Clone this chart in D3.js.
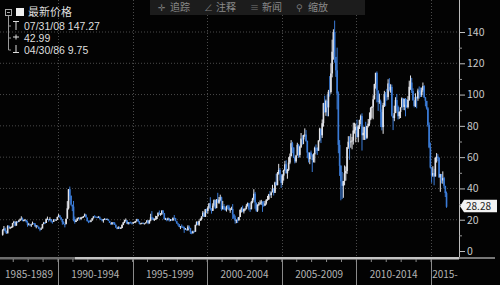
<!DOCTYPE html>
<html><head><meta charset="utf-8">
<script src="https://cdn.jsdelivr.net/npm/d3@7"></script>
<style>html,body{margin:0;padding:0;background:#000;}svg{display:block;}</style>
</head><body>
<svg id="c" width="500" height="285"></svg>
<script>
// Monthly WTI crude, Apr 1986 .. Jan 2016
const startYear = 1986, startMonth = 3; // April (0-based)
const closes = [
13.4,14.3,12.8,11.2,15.9,14.8,15.0,15.2,17.9,
18.7,16.2,18.8,18.7,19.4,20.3,20.6,19.2,19.6,19.9,18.4,16.7,
17.0,16.5,16.9,17.9,17.6,15.7,16.3,15.5,14.3,13.7,14.3,17.2,
18.0,17.9,20.3,20.4,19.8,20.3,18.9,18.6,20.1,19.8,20.0,21.8,
22.7,21.5,20.3,18.4,17.2,17.1,20.6,27.3,39.5,35.2,29.6,28.4,
20.4,18.6,19.4,20.8,21.3,20.3,21.4,21.7,22.2,23.4,21.5,19.1,
18.9,18.7,19.5,20.9,22.1,21.9,21.6,21.3,21.9,20.6,20.2,19.5,
20.3,20.4,20.3,20.4,19.3,18.0,17.0,18.4,18.1,16.7,15.0,14.2,
15.2,14.5,14.7,16.7,18.3,19.4,19.6,17.5,18.4,18.2,18.1,17.8,
18.4,18.5,19.2,20.4,18.9,17.4,17.6,17.8,17.6,17.6,18.2,19.6,
17.7,19.5,21.5,21.2,19.8,20.4,20.4,22.3,24.4,23.4,23.8,25.9,
24.2,20.3,20.4,19.7,20.9,19.8,20.1,19.6,21.2,21.0,19.1,17.6,
17.2,15.4,15.6,15.4,15.2,13.8,14.2,13.4,15.6,14.8,12.2,11.3,
12.6,12.3,16.7,18.7,16.8,19.3,20.5,22.1,24.5,21.8,26.7,25.6,
27.6,30.4,26.9,25.7,29.0,32.5,27.4,33.1,30.8,32.7,34.4,26.8,
28.7,26.7,26.3,28.5,28.4,26.3,26.4,26.9,23.4,21.2,19.4,19.8,
19.5,21.7,26.3,27.3,25.3,26.9,27.0,28.9,30.5,27.2,26.9,31.2,
33.5,36.6,31.0,25.8,29.6,30.2,30.5,31.6,29.2,29.1,30.4,32.5,
33.1,36.2,35.8,37.4,39.9,37.1,43.8,42.1,49.6,51.8,49.1,43.5,
48.2,51.8,55.4,49.7,51.9,56.5,60.6,68.9,66.2,59.8,57.3,61.0,
67.9,61.4,66.6,71.9,71.3,74.0,74.4,70.3,62.9,58.7,62.9,61.1,
58.1,61.8,65.9,65.7,64.0,70.7,78.2,74.0,81.7,94.5,88.7,96.0,
91.8,101.8,101.6,113.5,127.4,140.0,124.1,115.5,100.6,67.8,54.4,44.6,
41.7,44.8,49.7,51.1,66.3,69.9,69.5,70.0,70.6,77.0,77.3,79.4,
72.9,79.7,83.8,86.2,74.0,75.6,78.9,71.9,79.9,81.4,84.1,91.4,
92.2,97.0,106.7,113.9,102.7,95.4,95.7,88.8,79.2,93.2,100.4,98.8,
98.5,107.1,103.0,104.9,86.5,85.0,88.1,96.5,92.2,86.2,88.9,91.8,
97.5,92.1,97.2,93.5,92.0,96.6,105.0,107.7,102.3,96.4,92.7,98.4,
97.5,102.6,101.6,99.7,102.7,105.4,98.2,96.0,91.2,80.5,66.2,53.3,
48.2,49.8,47.6,59.6,60.3,59.5,47.1,49.2,45.1,46.6,41.7,37.0,
28.28];
const highs = [
14.0,16.0,15.0,13.0,16.5,16.5,15.5,15.8,18.0,
19.3,18.8,19.0,18.9,19.8,20.8,22.2,21.4,20.0,20.5,19.5,19.3,
17.9,17.3,17.1,18.8,18.0,17.8,16.5,16.4,15.6,14.6,15.1,17.3,
18.6,18.5,20.8,22.0,20.5,21.6,20.4,18.9,20.3,20.5,20.2,21.9,
23.7,22.9,21.5,20.5,19.0,17.3,20.7,31.9,39.5,41.2,35.6,29.5,
32.0,22.0,20.0,21.3,21.5,21.5,21.8,22.0,22.4,24.0,23.0,21.0,
19.5,19.6,19.8,21.1,22.2,22.9,22.1,21.9,22.3,22.0,20.7,20.0,
20.5,21.0,20.8,20.8,20.5,19.2,18.0,18.5,18.5,18.4,17.0,15.0,
15.8,15.6,15.3,17.0,18.4,20.0,20.8,19.6,18.5,18.5,18.8,18.0,
18.6,18.9,19.3,20.6,20.4,19.0,17.7,18.2,18.3,17.7,18.3,19.6,
19.5,20.0,23.8,25.5,21.4,20.9,22.5,22.3,24.7,25.9,24.3,25.9,
26.0,24.3,21.2,21.0,21.4,20.9,20.4,20.4,21.4,23.0,21.2,19.0,
18.0,17.0,16.0,17.0,16.2,15.6,14.7,14.1,16.5,16.3,14.7,12.6,
13.0,12.9,16.8,18.9,18.8,19.4,20.9,22.1,25.6,24.7,26.8,27.1,
28.6,30.6,34.4,27.4,30.5,33.0,32.6,33.1,37.2,34.5,36.0,34.7,
32.0,30.0,27.8,29.0,29.5,29.5,27.5,28.3,30.0,23.5,22.6,20.2,
21.5,21.8,26.6,28.0,29.0,27.0,27.6,30.0,31.0,30.8,27.3,32.0,
34.0,39.5,37.8,30.6,29.8,31.3,32.3,32.7,31.6,32.0,32.0,33.2,
35.2,36.5,38.3,38.0,42.3,40.0,44.3,49.4,50.5,55.7,53.0,45.0,
49.0,52.0,57.6,58.0,52.5,60.0,62.3,70.9,69.8,66.2,60.0,61.5,
69.2,68.3,67.2,75.4,74.0,74.3,78.4,77.3,70.6,63.0,62.9,64.2,
61.8,62.4,66.7,68.1,66.3,70.7,78.8,77.7,84.1,94.7,99.3,96.8,
100.1,103.0,111.8,119.9,135.1,141.7,147.3,121.2,130.0,102.0,70.9,55.0,
50.5,43.9,54.7,54.0,66.5,73.4,73.4,75.0,72.9,82.0,82.0,81.4,
84.0,80.5,83.9,87.2,88.0,79.5,79.4,82.6,79.9,84.4,88.6,92.0,
92.6,99.5,106.9,113.9,114.8,102.4,100.6,96.8,90.5,94.7,102.4,101.6,
103.7,109.8,110.5,106.6,106.4,86.5,92.9,98.3,100.4,93.0,89.3,91.8,
98.2,97.8,97.4,97.8,97.0,99.0,108.9,112.2,110.7,104.0,95.6,100.8,
98.7,103.8,105.2,104.5,104.5,107.7,106.0,98.4,95.9,92.0,82.2,69.3,
53.6,54.2,52.5,59.9,62.6,61.9,60.0,49.3,48.8,50.9,47.4,38.4,
38.0];
const lows = [
9.8,13.0,11.8,10.9,11.5,14.5,14.0,14.6,15.0,
17.7,15.8,16.3,18.0,18.5,19.3,20.2,19.0,19.0,19.3,18.2,15.5,
16.5,15.9,15.4,16.8,17.2,15.6,14.5,15.2,14.0,12.6,13.6,14.7,
17.1,17.4,17.9,20.0,18.7,19.5,18.2,17.5,18.7,19.6,19.2,19.8,
21.6,21.0,19.7,16.8,17.1,15.1,17.5,21.0,26.5,32.5,29.0,25.5,
19.0,17.5,18.5,19.2,20.6,19.5,20.2,20.9,21.2,22.1,21.3,18.9,
17.8,18.4,18.4,19.5,20.8,21.6,21.3,20.9,21.1,20.4,19.8,18.9,
18.1,19.9,19.8,19.9,19.2,17.9,16.8,17.0,17.0,16.6,14.9,13.9,
14.3,14.2,14.1,14.6,16.5,17.8,19.0,17.2,16.9,17.1,17.7,16.9,
17.2,18.1,17.8,19.0,18.5,17.0,17.1,17.2,17.4,17.0,17.6,18.1,
17.1,17.5,19.0,20.3,19.6,19.2,20.2,20.5,22.0,23.1,22.5,23.0,
23.9,20.3,19.8,19.0,19.7,18.8,19.1,19.4,19.3,20.4,19.0,17.5,
16.2,15.3,14.0,15.0,14.7,11.6,13.7,12.9,12.9,14.1,10.9,10.7,
11.3,11.8,12.5,16.3,16.5,16.0,19.5,19.6,22.3,21.8,21.9,24.2,
23.9,27.2,26.0,23.9,25.6,28.3,26.8,27.4,30.8,30.0,31.8,25.8,
26.5,26.4,25.7,25.2,26.8,25.9,24.4,26.2,20.5,20.3,17.5,17.8,
17.9,19.7,21.7,24.6,24.8,24.0,25.7,26.6,28.4,26.0,25.0,26.5,
30.5,32.4,27.0,25.0,25.0,28.7,29.6,29.5,25.0,28.3,28.8,29.6,
32.1,32.6,35.0,33.9,37.9,35.5,38.2,41.8,42.0,48.8,45.0,40.3,
42.1,45.0,51.2,49.5,46.2,51.1,55.5,60.5,62.5,59.4,56.0,56.4,
61.8,59.5,59.8,65.8,68.0,68.3,73.0,69.8,59.5,56.6,55.5,60.3,
50.5,56.6,56.5,62.4,61.4,64.5,70.0,69.0,72.3,79.5,88.5,86.4,
86.1,86.1,98.7,100.5,111.0,122.3,120.4,111.3,90.5,62.5,48.0,32.4,
33.2,34.0,42.0,45.0,49.3,65.3,58.3,66.0,65.0,68.0,75.0,69.5,
72.4,69.5,78.0,81.0,64.2,71.0,71.0,71.0,72.8,79.0,80.0,83.6,
85.1,84.2,96.9,103.8,95.0,89.6,94.1,79.2,77.1,74.9,92.1,92.5,
96.1,96.7,102.0,101.2,86.0,77.3,83.0,89.2,89.2,84.1,84.5,85.0,
91.8,90.1,90.0,86.1,91.5,91.1,96.0,103.0,101.0,96.0,91.8,92.0,
91.2,96.0,97.4,98.4,98.5,101.7,97.8,92.5,90.4,79.4,65.7,52.7,
43.6,47.4,42.0,47.7,56.5,57.4,46.7,37.8,43.2,43.0,40.0,34.5,
27.6];
const firstOpen = 10.4;
const yTicks = [0,20,40,60,80,100,120,140];
const yMinor = [10,30,50,70,90,110,130];
const periodStarts = [1985,1990,1995,2000,2005,2010,2015];
const periodLabels = ["1985-1989","1990-1994","1995-1999","2000-2004","2005-2009","2010-2014","2015-"];
const legendTitle = "最新价格";
const legendRows = ["07/31/08 147.27","42.99","04/30/86 9.75"];
const lastLabel = "28.28";
const toolbarItems = [["✛","追踪"],["∠","注释"],["≡","新闻"],["⚲","缩放"]];

const svg = d3.select("#c");
const font = "'Noto Sans CJK SC','DejaVu Sans',sans-serif";
const numFont = "'Liberation Sans','DejaVu Sans',sans-serif";
const W = 500, H = 285, axisX = 459, baseY = 258;
const x = d3.scaleLinear().domain([1990, 2015]).range([58, 431]);
const y = d3.scaleLinear().domain([0, 140]).range([251, 32]);

svg.append("rect").attr("width", W).attr("height", H).attr("fill", "#030303");

// grid
const g = svg.append("g");
g.selectAll(".hg").data(yTicks.slice(1)).join("line")
  .attr("x1", 0).attr("x2", axisX).attr("y1", d => y(d)).attr("y2", d => y(d))
  .attr("stroke", "#4a4a4a").attr("stroke-width", 1).attr("stroke-dasharray", "1,2");
g.selectAll(".vg").data(periodStarts.slice(1)).join("line")
  .attr("x1", d => Math.round(x(d)) + 0.5).attr("x2", d => Math.round(x(d)) + 0.5)
  .attr("y1", 0).attr("y2", baseY)
  .attr("stroke", "#4a4a4a").attr("stroke-width", 1).attr("stroke-dasharray", "1,2");

// candles
const data = closes.map((c, i) => {
  const t = startYear + (startMonth + i) / 12;
  const o = i === 0 ? firstOpen : closes[i - 1];
  return {t, o, c, h: highs[i], l: lows[i]};
});
const mw = x(1991) - x(1990);
const bw = mw / 12;
const cg = svg.append("g");
data.forEach(d => {
  const up = d.c >= d.o;
  const col = up ? "#e2e3e8" : "#3b7bd6";
  const cx = x(d.t + 0.5 / 12);
  cg.append("line").attr("x1", cx).attr("x2", cx).attr("y1", y(d.h)).attr("y2", y(d.l))
    .attr("stroke", col).attr("stroke-width", 1);
  const top = y(Math.max(d.o, d.c)), bot = y(Math.min(d.o, d.c));
  cg.append("rect").attr("x", cx - bw * 0.65).attr("width", bw * 1.3)
    .attr("y", top).attr("height", Math.max(0.8, bot - top)).attr("fill", col);
});

// right axis
const ax = svg.append("g").attr("transform", `translate(${axisX},0)`);
ax.append("line").attr("x1", 0.5).attr("x2", 0.5).attr("y1", 0).attr("y2", baseY).attr("stroke", "#bdbdbd");
ax.call(g2 => {
  const a = d3.axisRight(y).tickValues(yTicks).tickSize(6).tickPadding(2);
  g2.append("g").call(a).call(s => {
    s.select(".domain").remove();
    s.selectAll("line").attr("stroke", "#bdbdbd");
    s.selectAll("text").attr("fill", "#c8c8c8").attr("font-family", font).attr("font-size", 10.5);
  });
  g2.append("g").call(d3.axisRight(y).tickValues(yMinor).tickSize(3).tickFormat(""))
    .call(s => { s.select(".domain").remove(); s.selectAll("line").attr("stroke", "#9a9a9a"); });
});

// last price box
const ly = y(closes[closes.length - 1]) - 0.5;
const lb = svg.append("g");
lb.append("path").attr("d", `M${axisX + 1},${ly} L${axisX + 5},${ly - 6.5} L${497},${ly - 6.5} L${497},${ly + 6} L${axisX + 5},${ly + 6} Z`)
  .attr("fill", "#f2f2f2");
lb.append("text").attr("x", axisX + 7).attr("y", ly + 3.5).text(lastLabel)
  .attr("fill", "#222").attr("font-family", font).attr("font-size", 10);

// bottom band
svg.append("rect").attr("x", 0).attr("y", baseY - 1).attr("width", 75).attr("height", 2.5).attr("fill", "#6e6e6e");
svg.append("rect").attr("x", 75).attr("y", baseY - 1).attr("width", axisX - 75).attr("height", 2.5).attr("fill", "#c4c4c4");
svg.append("rect").attr("x", axisX).attr("y", baseY - 1).attr("width", 36).attr("height", 2).attr("fill", "#777");
const years = d3.range(1986, 2016);
svg.selectAll(".yt").data(years).join("line")
  .attr("x1", d => x(d)).attr("x2", d => x(d)).attr("y1", baseY + 1).attr("y2", baseY + 4)
  .attr("stroke", "#8a8a8a");
svg.selectAll(".pd").data(periodStarts.slice(1)).join("line")
  .attr("x1", d => Math.round(x(d)) + 0.5).attr("x2", d => Math.round(x(d)) + 0.5)
  .attr("y1", baseY + 1).attr("y2", H).attr("stroke", "#8a8a8a");
svg.selectAll(".pl").data(periodStarts).join("text")
  .attr("x", (d) => (Math.max(x(d), 0) + Math.min(x(d + 5), axisX)) / 2)
  .attr("y", 278).attr("text-anchor", "middle")
  .text((d, i) => periodLabels[i])
  .attr("fill", "#b4b4b4").attr("font-family", font).attr("font-size", 10);

// toolbar
const tb = svg.append("g");
tb.append("rect").attr("x", 150).attr("y", 0).attr("width", 215).attr("height", 15).attr("fill", "#1c1c1c");
toolbarItems.forEach((it, i) => {
  const tx = 158 + i * 46;
  tb.append("text").attr("x", tx).attr("y", 11).text(it[0]).attr("fill", "#7a7a7a")
    .attr("font-family", font).attr("font-size", 9);
  tb.append("text").attr("x", tx + 12).attr("y", 11).text(it[1]).attr("fill", "#8a8a8a")
    .attr("font-family", font).attr("font-size", 10);
});

// legend
const lg = svg.append("g").attr("fill", "#dedede").attr("font-family", font);
lg.append("rect").attr("x", 5.5).attr("y", 9.5).attr("width", 6).attr("height", 6).attr("fill", "none").attr("stroke", "#aaa");
lg.append("line").attr("x1", 7).attr("x2", 10).attr("y1", 12.5).attr("y2", 12.5).attr("stroke", "#aaa");
lg.append("rect").attr("x", 16).attr("y", 8).attr("width", 8).attr("height", 8).attr("fill", "#f0f0f0");
lg.append("text").attr("x", 28).attr("y", 16).text(legendTitle).attr("font-size", 11);
lg.append("path").attr("d", "M8.5,16 V50 M8.5,26 H11 M8.5,38 H11 M8.5,50 H11").attr("stroke", "#999").attr("fill", "none");
const syms = ["M13,21.5 H19 M16,21.5 V30", "M13,37 H19 M16,34.5 V39.5", "M16,45 V52.5 M13,52.5 H19"];
syms.forEach(s => lg.append("path").attr("d", s).attr("stroke", "#ddd").attr("fill", "none"));
legendRows.forEach((t, i) => {
  lg.append("text").attr("x", 24).attr("y", 30 + i * 12).text(t)
    .attr("font-family", numFont).attr("font-size", 10.5);
});
</script>
</body></html>
